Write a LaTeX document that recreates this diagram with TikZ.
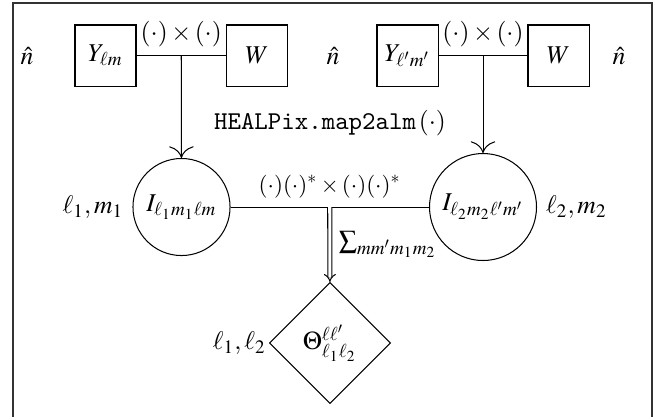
\documentclass[tikz,border=0pt]{standalone}
\usepackage{amsmath,amssymb}
\usepackage{mathptmx}
\usepackage{tikz}
\usetikzlibrary{arrows.meta,calc,positioning,shapes.geometric}
\definecolor{Ink}{HTML}{000000}
\definecolor{Frame}{HTML}{333333}

\begin{document}
\begin{tikzpicture}[x=0.0137cm, y=-0.0137cm,
    harmbox/.style={rectangle,draw=Ink,minimum size=0.836cm,inner sep=1pt},
    coeffnode/.style={circle,draw=Ink,inner sep=1pt},
    outnode/.style={diamond,draw=Ink,minimum size=1.66cm,inner sep=0pt},
    flow/.style={draw=Ink,-{To[length=1.6mm]}},
    sumflow/.style={draw=Ink,double,double distance=1.2pt,-{Implies}}]
    \useasboundingbox (0,0) rectangle (662,416);
    \draw[Frame,line width=0.6pt] (13,3) rectangle (652,440);
    % first pair
    \node (n1) at (27,56) {$\hat{n}$};
    \node[harmbox] (ylm) at (105.5,55.5) {$Y_{\ell m}$};
    \node[harmbox] (w1) at (257,55.5) {$W$};
    % second pair
    \node (n2) at (333,56) {$\hat{n}$};
    \node[harmbox] (ylmp) at (407.5,55.5) {$Y_{\ell' m'}$};
    \node[harmbox] (w2) at (558.5,55.5) {$W$};
    \node (n3) at (619,56) {$\hat{n}$};
    \node (map) at (330,123) {\texttt{HEALPix.map2alm}$\,(\cdot)$};
    % harmonic coefficients
    \node[coeffnode,minimum size=1.33cm,label={left:$\ell_1,m_1$}] (i1) at (181.5,207) {$I_{\ell_1 m_1 \ell m}$};
    \node[coeffnode,minimum size=1.466cm,label={right:$\ell_2,m_2$}] (i2) at (483,207) {$I_{\ell_2 m_2 \ell' m'}$};
    \node[outnode,label={[inner sep=1pt]left:$\ell_1,\ell_2$}] (theta) at (330,343) {$\Theta^{\ell\ell'}_{\ell_1\ell_2}$};
    \coordinate (j1) at ($(ylm.east)!0.5!(w1.west)$);
    \coordinate (j2) at ($(ylmp.east)!0.5!(w2.west)$);
    \coordinate (j3) at ($(i1.east)!0.5!(i2.west)$);
    \draw[Ink] (ylm) -- (w1) node[midway,above] {$(\cdot)\times(\cdot)$};
    \draw[Ink] (ylmp) -- (w2) node[midway,above] {$(\cdot)\times(\cdot)$};
    \draw[flow] (j1) -- (i1);
    \draw[flow] (j2) -- (i2);
    \draw[Ink] (i1) -- (i2) node[midway,above] {\small$(\cdot)(\cdot)^{*}\times(\cdot)(\cdot)^{*}$};
    \draw[sumflow] (j3) -- (theta) node[midway,right] {$\sum_{mm'm_1m_2}$};
\end{tikzpicture}
\end{document}
